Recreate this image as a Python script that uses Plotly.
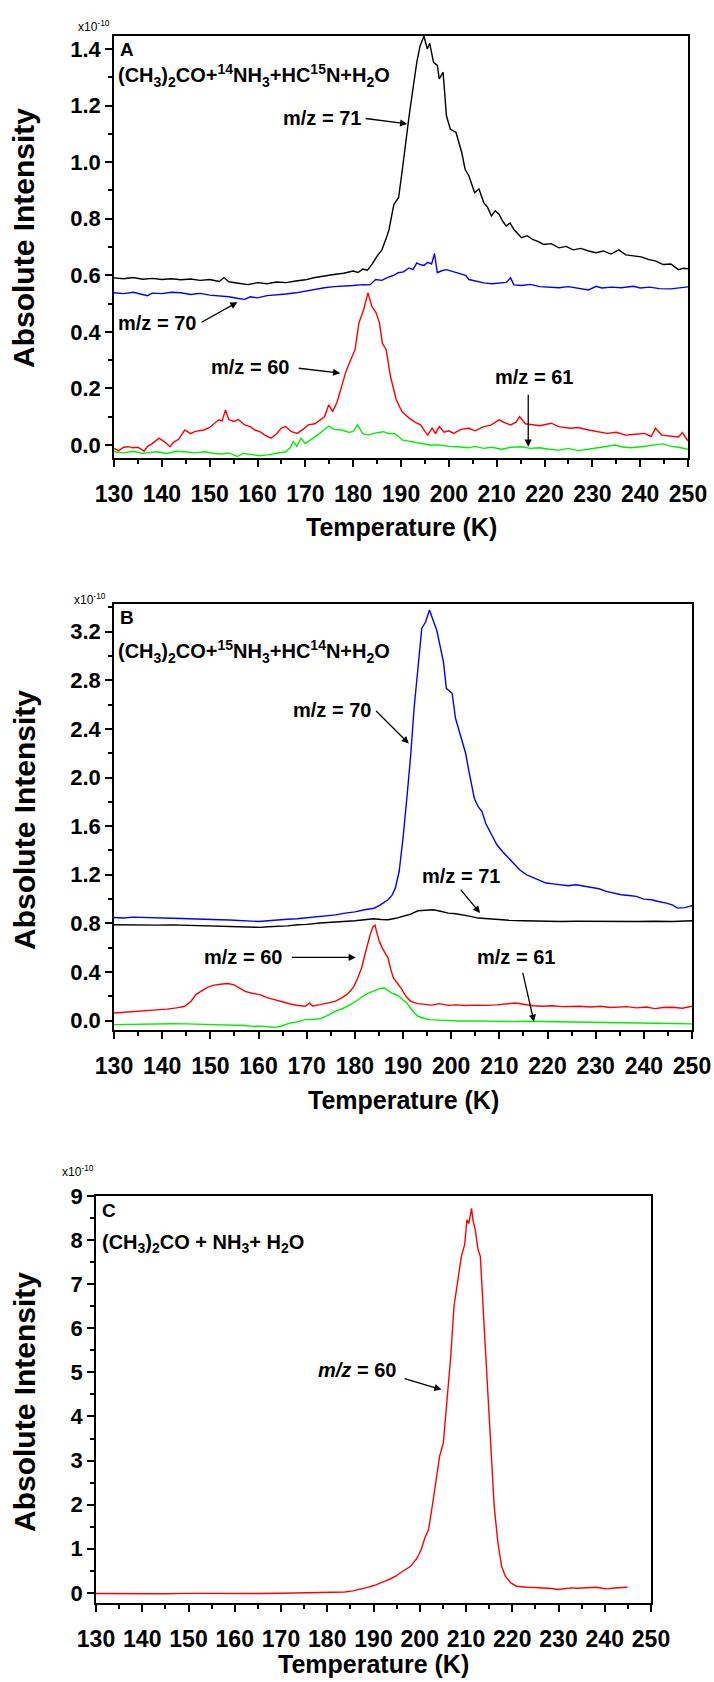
import plotly.graph_objects as go

# ---------------- Panel A data ----------------
A_T71 = [130,132,134,136,138,140,142,144,146,148,150,152,153,154,156,158,160,162,164,166,168,170,172,174,176,178,180,181,182,183,184,185,186,187,187.5,188.5,189.5,190.2,191,191.7,192.5,193.3,194,194.8,195.5,196,196.8,197.6,198,198.8,199.5,200.3,201.5,202.7,203.4,204.2,205.4,206.3,207.3,208.1,208.9,209.7,210.5,211.3,212,212.8,213.6,214.4,215.2,216.4,217.5,218.6,219.8,221.4,223,224.5,226,227.6,229.2,230.8,232.3,233.9,235.5,237,238.6,240.2,241.7,243.3,244.8,246.4,248,249,250]
A_V71 = [0.591,0.588,0.592,0.586,0.589,0.585,0.588,0.584,0.587,0.582,0.585,0.578,0.592,0.577,0.572,0.567,0.574,0.570,0.576,0.574,0.580,0.584,0.592,0.598,0.603,0.607,0.615,0.610,0.622,0.618,0.640,0.668,0.690,0.735,0.762,0.850,0.875,0.963,1.082,1.164,1.259,1.353,1.412,1.445,1.400,1.420,1.353,1.342,1.294,1.318,1.164,1.117,1.105,1.034,0.975,0.951,0.892,0.905,0.857,0.840,0.810,0.828,0.816,0.790,0.774,0.785,0.762,0.748,0.733,0.740,0.727,0.720,0.709,0.712,0.697,0.702,0.690,0.695,0.686,0.680,0.686,0.675,0.690,0.672,0.668,0.665,0.656,0.650,0.638,0.640,0.620,0.625,0.623]

A_T70 = [130,132,134,136,137,138,140,142,144,146,148,150,152,154,156,157.3,158.5,160,162,164,166,168,170,172,174,176,178,180,182,183.5,184.7,186,187,188.5,189.4,190.5,191.7,192.5,193.3,194,194.8,195.6,196.4,197,197.6,198.5,199.5,201,202.7,203.5,204.2,205.5,207.3,209,210.5,212,212.9,213.6,215.2,217,219,221,223,225,227,229.2,230.8,232,234,236,238.6,240,242,244,246.4,248,250]
A_V70 = [0.538,0.535,0.540,0.532,0.528,0.537,0.535,0.540,0.538,0.532,0.536,0.530,0.527,0.524,0.518,0.515,0.524,0.520,0.528,0.530,0.534,0.538,0.544,0.552,0.556,0.560,0.561,0.564,0.567,0.566,0.585,0.582,0.591,0.600,0.609,0.612,0.626,0.620,0.644,0.638,0.635,0.646,0.640,0.677,0.609,0.616,0.620,0.612,0.603,0.600,0.585,0.580,0.573,0.570,0.573,0.575,0.591,0.566,0.564,0.568,0.560,0.557,0.556,0.560,0.555,0.548,0.561,0.555,0.558,0.556,0.561,0.555,0.558,0.553,0.552,0.556,0.559]

A_T60 = [130,131,132,133,134,135,136.3,137,138,139.4,140.5,141.7,142.5,143.5,144.8,146,147,148.8,150,151,151.9,152.6,153.3,154,155,156,157.3,158.5,159.5,160.5,161.5,162.8,164,165,165.9,167,168.3,169.5,170.6,172,173,174,174.9,175.7,176.6,177.6,178.4,179.2,180.4,181.2,182.2,183.1,183.9,184.8,185.5,186.1,186.9,187.8,189,190.2,191.7,193,194.1,195,195.6,196.5,197.2,198,199,200,201,202.5,204.2,205.5,207.3,208.8,210.5,211.5,212.9,214,214.8,216,217.5,219,221.4,223,225.3,227,229.2,231,233.1,235,237,239,240.9,242.3,243.2,244.5,246.4,248,248.8,250]
A_V60 = [-0.012,-0.020,-0.008,-0.006,-0.010,-0.008,-0.022,-0.005,0.005,0.024,0.012,-0.006,0.010,0.020,0.053,0.040,0.048,0.053,0.062,0.075,0.089,0.085,0.124,0.090,0.083,0.090,0.071,0.065,0.052,0.047,0.035,0.024,0.040,0.060,0.065,0.048,0.041,0.055,0.071,0.075,0.089,0.100,0.142,0.118,0.150,0.207,0.255,0.290,0.337,0.431,0.479,0.538,0.490,0.467,0.431,0.360,0.337,0.242,0.160,0.118,0.095,0.080,0.071,0.048,0.035,0.060,0.040,0.065,0.045,0.050,0.041,0.055,0.059,0.050,0.065,0.070,0.089,0.080,0.071,0.080,0.100,0.075,0.071,0.068,0.077,0.065,0.059,0.062,0.053,0.048,0.041,0.045,0.035,0.038,0.041,0.030,0.059,0.035,0.030,0.028,0.044,0.015]

A_T61 = [130,132,134,136,137,139,141,143,144.8,147,149,151,152.7,154,155.8,157,159,160.5,162,164,165.9,166.8,167.5,168.2,169.1,170,170.6,171.8,173,174,174.9,176,177.6,179,180,180.9,182,183.1,184.5,186.3,187.5,188.6,189.5,190.2,192,194.1,196,198,200,201.9,204,205.5,207.3,209,211,213,215.2,217,219,221,223,225,227,229.2,231,233,234.7,236,238,240.2,242,243.5,244.8,246.5,248,250]
A_V61 = [-0.024,-0.028,-0.022,-0.030,-0.027,-0.024,-0.030,-0.022,-0.024,-0.028,-0.024,-0.030,-0.032,-0.028,-0.041,-0.030,-0.034,-0.038,-0.035,-0.030,-0.024,-0.010,0.012,-0.005,0.024,0.005,0.012,0.025,0.041,0.055,0.067,0.055,0.053,0.045,0.047,0.071,0.040,0.035,0.042,0.047,0.040,0.041,0.030,0.018,0.012,0.006,0.000,0.000,-0.005,-0.006,-0.010,-0.005,-0.012,-0.008,-0.015,-0.008,-0.006,-0.012,-0.010,-0.015,-0.018,-0.012,-0.020,-0.015,-0.010,-0.005,0.000,-0.006,-0.010,-0.006,-0.002,0.000,0.004,-0.005,-0.008,-0.015]

# ---------------- Panel B data ----------------
B_T70 = [130,132,134,136,138,140,142,144,146,148,150,152,154,156,158,160,162,164,166,168,170,172,174,176,178,180,182,184,185.3,186.2,186.9,187.7,188.4,189.2,190,190.8,191.6,192.3,193.1,193.9,194.7,195.5,196.1,197,197.8,198.4,199,200.2,200.9,202.1,203,203.7,204.8,205.6,206.4,207.2,208,208.8,209.5,210.7,211.9,213,214.2,215.7,217.3,218.5,219.7,221.2,222.8,224.3,225.9,227.5,229.1,230.7,232.2,233.8,235.3,236.9,238.4,240,241.6,243,244.7,246,247,248.5,250]
B_V70 = [0.849,0.845,0.852,0.848,0.850,0.846,0.842,0.840,0.836,0.838,0.834,0.830,0.828,0.824,0.820,0.816,0.822,0.830,0.834,0.838,0.846,0.855,0.862,0.870,0.885,0.895,0.912,0.925,0.953,0.975,0.995,1.030,1.090,1.227,1.501,1.830,2.186,2.570,2.926,3.227,3.282,3.378,3.310,3.214,3.063,2.950,2.734,2.693,2.488,2.323,2.200,2.049,1.830,1.760,1.720,1.620,1.556,1.500,1.447,1.390,1.337,1.290,1.241,1.200,1.173,1.150,1.132,1.125,1.118,1.110,1.118,1.105,1.096,1.085,1.063,1.050,1.036,1.030,1.022,1.000,0.995,0.980,0.967,0.950,0.926,0.930,0.945]

B_T71 = [130,133,136,139,142,145,148,150,152.5,155,158,160.3,162,164,166,168.1,170,172.8,175,177.5,180,182,183.8,185.5,186.9,188.5,190,191.5,193.1,194.7,196.3,197.8,199.4,201,202.5,204,205.6,207.2,208.8,212,215,218,222.8,226,230.6,234,238.4,242,246,250]
B_V71 = [0.789,0.787,0.790,0.786,0.788,0.784,0.782,0.780,0.775,0.772,0.768,0.767,0.772,0.775,0.780,0.789,0.792,0.803,0.808,0.816,0.822,0.830,0.838,0.832,0.830,0.842,0.858,0.875,0.904,0.910,0.912,0.900,0.885,0.880,0.871,0.858,0.844,0.840,0.830,0.826,0.822,0.818,0.816,0.818,0.816,0.814,0.816,0.818,0.816,0.822]

B_T60 = [130,132,134,136.9,139,141,143,144.7,146,147,148.2,149.4,150.5,151.5,152.5,153.6,154.8,156,157.2,158.7,160.3,161.8,163.4,165,166.6,168.2,169.7,170.6,171.2,172.8,174.3,175.9,177.2,178.3,179.1,179.8,180.6,181.4,182,182.6,183.2,183.8,184.2,184.5,185.1,185.7,186.3,186.9,187.4,188,188.8,189.6,190.6,191.6,193,194.7,196,197.5,199.4,201,203,205,207.2,209.5,211.5,213.4,215,217,218.9,221,223,225,226.7,229,231,233,234.5,236.5,238.5,240.5,242.3,244,246,248,250]
B_V60 = [0.063,0.068,0.074,0.082,0.090,0.095,0.105,0.118,0.160,0.214,0.245,0.274,0.290,0.298,0.301,0.305,0.296,0.270,0.241,0.225,0.214,0.190,0.173,0.150,0.137,0.125,0.118,0.145,0.120,0.132,0.145,0.159,0.185,0.214,0.245,0.282,0.350,0.433,0.530,0.625,0.710,0.775,0.785,0.734,0.650,0.597,0.560,0.515,0.430,0.351,0.310,0.268,0.200,0.159,0.140,0.132,0.128,0.140,0.126,0.130,0.124,0.128,0.126,0.130,0.138,0.145,0.135,0.122,0.118,0.122,0.115,0.120,0.118,0.112,0.118,0.108,0.110,0.115,0.105,0.112,0.099,0.108,0.110,0.102,0.118]

B_T61 = [130,133,136,139,142,145,148,150,152.5,155,157,158.8,160.5,162,163.4,164.5,165.5,166.6,168,169.7,171,172.8,174.5,175.9,177.5,179.1,180.6,182.2,183.3,184.5,185.3,186.1,186.9,187.7,188.5,189.2,190,190.8,191.8,193.1,194.3,195.5,197.5,199.4,202,205,207.2,210,213,215,217,219,222.8,226,230.6,234,238.4,242,246,250]
B_V61 = [-0.033,-0.030,-0.027,-0.030,-0.025,-0.027,-0.030,-0.028,-0.033,-0.035,-0.040,-0.047,-0.045,-0.050,-0.055,-0.048,-0.035,-0.019,-0.010,0.008,0.010,0.016,0.045,0.077,0.100,0.132,0.170,0.214,0.235,0.255,0.265,0.268,0.245,0.227,0.215,0.200,0.170,0.145,0.090,0.036,0.020,0.008,0.004,0.000,-0.003,-0.002,-0.005,-0.004,-0.008,-0.005,-0.006,-0.010,-0.011,-0.014,-0.011,-0.016,-0.019,-0.020,-0.024,-0.027]

# ---------------- Panel C data ----------------
C_T60 = [130,135,140,144.4,150,155,160.1,165,170,175.9,180,183.8,185.5,186.9,188.5,190.1,191.3,192.5,193.7,194.8,195.6,196.4,197.2,198,198.6,199.2,199.8,200.3,201.1,201.9,202.7,203.5,204.3,205.1,205.9,206.7,207.4,208.2,209,209.7,210.2,210.6,211,211.2,211.5,212,212.6,213.1,213.8,214.5,215.3,216.1,216.9,217.7,218.5,219.7,220.9,222,223.2,225,227.2,228.5,229.9,231,232.7,234,236,238.2,239.5,240.6,242,243.5,244.9]
C_V60 = [-0.015,-0.020,-0.015,-0.020,-0.012,-0.018,-0.020,-0.015,-0.010,0.000,0.005,0.020,0.045,0.075,0.120,0.166,0.210,0.264,0.320,0.378,0.440,0.490,0.550,0.604,0.680,0.755,0.870,0.982,1.246,1.435,1.964,2.490,3.100,3.400,4.300,5.360,6.500,7.020,7.630,7.890,8.460,8.380,8.570,8.720,8.460,8.230,7.780,7.630,6.270,4.910,3.250,1.960,1.130,0.604,0.378,0.227,0.151,0.135,0.128,0.120,0.113,0.100,0.076,0.095,0.113,0.105,0.115,0.128,0.105,0.090,0.110,0.115,0.128]

X_RANGE = [130, 250]
A_YRANGE = [-0.046, 1.446]
B_YRANGE = [-0.077, 3.428]
C_YRANGE = [-0.23, 9.0]

# ---------------- layout helpers ----------------
W, H = 714, 1682
def px(x):
    return x / W
def py(y):
    return 1 - y / H

FONT = "Liberation Sans, Arial, sans-serif"
BLACK = "#000000"
COLORS = {"71": "#000000", "70": "#0000FF", "60": "#FF0000", "61": "#00F000"}
LW = 1.4

fig = go.Figure()

def add(xs, ys, key, xa, ya):
    fig.add_trace(go.Scatter(x=xs, y=ys, mode="lines", xaxis=xa, yaxis=ya,
                             line=dict(color=COLORS[key], width=LW), showlegend=False,
                             hoverinfo="skip"))

add(A_T61, A_V61, "61", "x", "y")
add(A_T60, A_V60, "60", "x", "y")
add(A_T70, A_V70, "70", "x", "y")
add(A_T71, A_V71, "71", "x", "y")

add(B_T61, B_V61, "61", "x2", "y2")
add(B_T60, B_V60, "60", "x2", "y2")
add(B_T71, B_V71, "71", "x2", "y2")
add(B_T70, B_V70, "70", "x2", "y2")

add(C_T60, C_V60, "60", "x3", "y3")

def xaxis(x0, x1, anchor):
    return dict(domain=[px(x0), px(x1)], anchor=anchor, range=X_RANGE, automargin=False,
                tickmode="linear", tick0=130, dtick=10,
                ticks="outside", ticklen=7, tickwidth=1.5, tickcolor=BLACK,
                ticklabelstandoff=8,
                minor=dict(dtick=5, tick0=130, ticks="outside", ticklen=4, tickwidth=1.5,
                           tickcolor=BLACK, showgrid=False),
                showline=True, linewidth=1.6, linecolor=BLACK, mirror=True,
                showgrid=False, zeroline=False,
                tickfont=dict(family=FONT, size=23, color=BLACK, weight="bold"))

def yaxis(y_top, y_bot, anchor, rng, dtick, minor, fmt):
    return dict(domain=[py(y_bot), py(y_top)], anchor=anchor, range=rng, automargin=False,
                tickmode="linear", tick0=0, dtick=dtick, tickformat=fmt,
                ticks="outside", ticklen=7, tickwidth=1.5, tickcolor=BLACK,
                minor=dict(dtick=minor, tick0=0, ticks="outside", ticklen=4, tickwidth=1.5,
                           tickcolor=BLACK, showgrid=False),
                showline=True, linewidth=1.6, linecolor=BLACK, mirror=True,
                showgrid=False, zeroline=False,
                tickfont=dict(family=FONT, size=22, color=BLACK, weight="bold"))

# panel pixel boxes (left, right, top, bottom)
A_BOX = (114, 688, 36, 458)
B_BOX = (114, 692, 604, 1030)
C_BOX = (96, 651, 1196, 1603)

fig.update_layout(
    width=W, height=H, margin=dict(l=0, r=0, t=0, b=0, pad=0), autosize=False,
    paper_bgcolor="white", plot_bgcolor="white",
    xaxis=xaxis(A_BOX[0], A_BOX[1], "y"),
    yaxis=yaxis(A_BOX[2], A_BOX[3], "x", A_YRANGE, 0.2, 0.1, ".1f"),
    xaxis2=xaxis(B_BOX[0], B_BOX[1], "y2"),
    yaxis2=yaxis(B_BOX[2], B_BOX[3], "x2", B_YRANGE, 0.4, 0.2, ".1f"),
    xaxis3=xaxis(C_BOX[0], C_BOX[1], "y3"),
    yaxis3=yaxis(C_BOX[2], C_BOX[3], "x3", C_YRANGE, 1, 0.5, "d"),
)

ann = []

def text(x, y, s, xref, yref, size=20, xanchor="center", yanchor="middle"):
    ann.append(dict(x=x, y=y, xref=xref, yref=yref, text=s, showarrow=False,
                    xanchor=xanchor, yanchor=yanchor,
                    font=dict(family=FONT, size=size, color=BLACK, weight="bold")))

def arrow(x0, y0, x1, y1, xref, yref):
    ann.append(dict(x=x1, y=y1, ax=x0, ay=y0, xref=xref, yref=yref, axref=xref, ayref=yref,
                    text="", showarrow=True, arrowhead=2, arrowsize=1.1, arrowwidth=1.3,
                    arrowcolor=BLACK, standoff=0, startstandoff=0))

# Panel A annotations
text(130.8, 1.40, "A", "x", "y", size=19, xanchor="left")
text(130.4, 1.305, "(CH<sub>3</sub>)<sub>2</sub>CO+<sup>14</sup>NH<sub>3</sub>+HC<sup>15</sup>N+H<sub>2</sub>O",
     "x", "y", size=20, xanchor="left")
text(173.4, 1.155, "m/z = 71", "x", "y")
arrow(182.3, 1.155, 191.3, 1.135, "x", "y")
text(139.0, 0.431, "m/z = 70", "x", "y")
arrow(148.0, 0.431, 155.8, 0.505, "x", "y")
text(158.5, 0.275, "m/z = 60", "x", "y")
arrow(168.3, 0.272, 177.3, 0.254, "x", "y")
text(217.9, 0.242, "m/z = 61", "x", "y")
arrow(216.6, 0.183, 216.6, -0.006, "x", "y")

# Panel B annotations
text(130.8, 3.32, "B", "x2", "y2", size=19, xanchor="left")
text(130.4, 3.04, "(CH<sub>3</sub>)<sub>2</sub>CO+<sup>15</sup>NH<sub>3</sub>+HC<sup>14</sup>N+H<sub>2</sub>O",
     "x2", "y2", size=20, xanchor="left")
text(175.2, 2.56, "m/z = 70", "x2", "y2")
arrow(184.1, 2.56, 191.2, 2.28, "x2", "y2")
text(202.1, 1.19, "m/z = 71", "x2", "y2")
arrow(201.7, 1.09, 206.0, 0.885, "x2", "y2")
text(156.8, 0.52, "m/z = 60", "x2", "y2")
arrow(166.6, 0.52, 180.2, 0.52, "x2", "y2")
text(213.4, 0.52, "m/z = 61", "x2", "y2")
arrow(214.8, 0.405, 217.2, -0.01, "x2", "y2")

# Panel C annotations
text(130.8, 8.67, "C", "x3", "y3", size=19, xanchor="left")
text(130.9, 7.93, "(CH<sub>3</sub>)<sub>2</sub>CO + NH<sub>3</sub>+ H<sub>2</sub>O", "x3", "y3", size=20, xanchor="left")
text(186.5, 5.06, "<i>m/z</i> = 60", "x3", "y3")
arrow(196.4, 4.87, 204.7, 4.61, "x3", "y3")

# multipliers
for (xl, yc) in [(76, 26), (72, 599), (60, 1171)]:
    ann.append(dict(x=px(xl), y=py(yc), xref="paper", yref="paper", text="x10<sup>-10</sup>",
                    showarrow=False, xanchor="left", yanchor="middle",
                    font=dict(family=FONT, size=12, color=BLACK)))

# axis titles
for yc in [238, 820, 1402]:
    ann.append(dict(x=px(24), y=py(yc), xref="paper", yref="paper", text="Absolute Intensity",
                    textangle=-90, showarrow=False, xanchor="center", yanchor="middle",
                    font=dict(family=FONT, size=30, color=BLACK, weight="bold")))
for (xc, yc) in [(401, 527), (403, 1100), (373, 1664)]:
    ann.append(dict(x=px(xc), y=py(yc), xref="paper", yref="paper", text="Temperature (K)",
                    showarrow=False, xanchor="center", yanchor="middle",
                    font=dict(family=FONT, size=25, color=BLACK, weight="bold")))

fig.update_layout(annotations=ann)
fig.write_html("out.html", config={"displayModeBar": False},
               post_script="document.body.style.margin='0';document.body.style.overflow='hidden';")
